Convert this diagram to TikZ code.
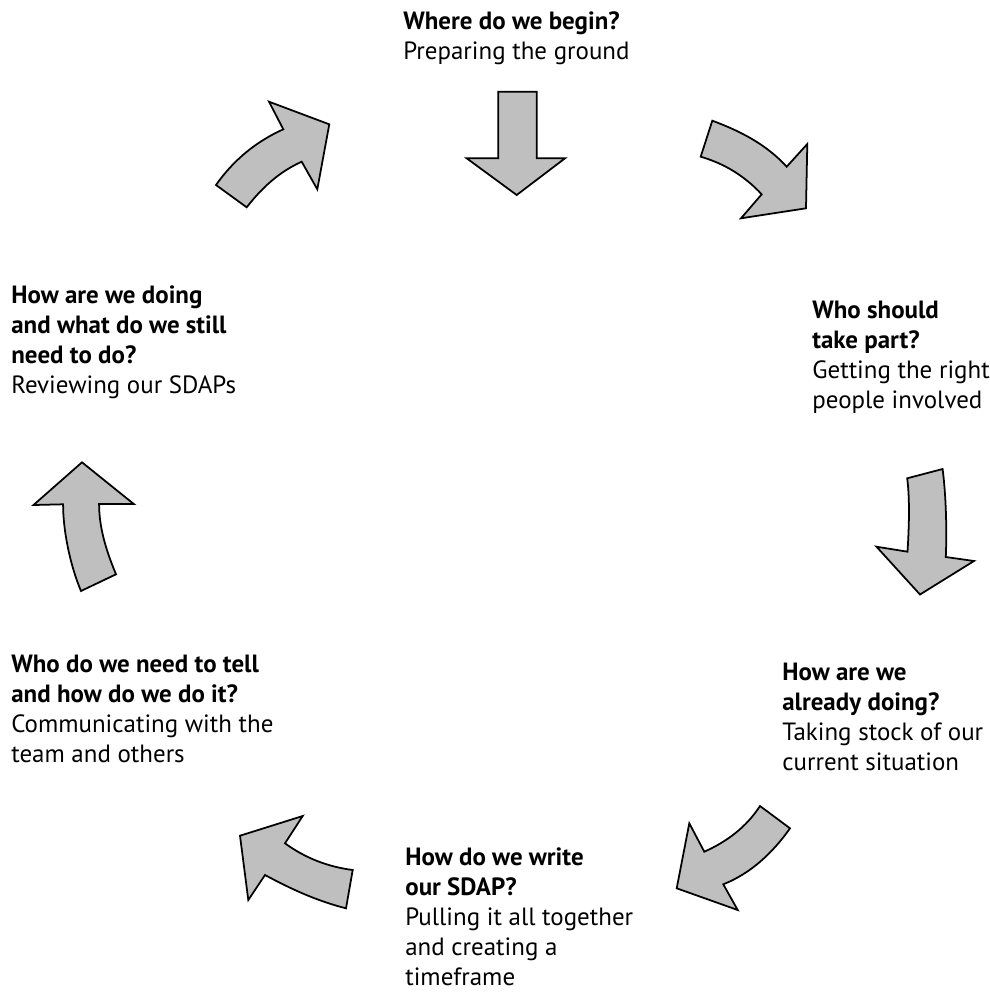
\documentclass[tikz,border=0pt]{standalone}
\usepackage{fontspec}
\setmainfont{PT Sans}
\newcommand{\stagefont}{\fontsize{14.2pt}{17.07pt}\selectfont}
\tikzset{
  blockarrow/.style = {draw=black, fill=black!25, line width=1pt},
  stage/.style = {anchor=base west, align=left, inner sep=0pt, font=\stagefont},
}

\begin{document}
\begin{tikzpicture}[x=0.02cm, y=-0.02cm]
  \useasboundingbox (0,0) rectangle (990,992);

  % Stage texts (placed at the baseline of their last line)
  \node[stage] (begin)   at (403,59)  {\textbf{Where do we begin?}\\Preparing the ground};
  \node[stage] (who)     at (812,408) {\textbf{Who should}\\\textbf{take part?}\\Getting the right\\people involved};
  \node[stage] (already) at (782,770) {\textbf{How are we}\\\textbf{already doing?}\\Taking stock of our\\current situation};
  \node[stage] (write)   at (405,985) {\textbf{How do we write}\\\textbf{our SDAP?}\\Pulling it all together\\and creating a\\timeframe};
  \node[stage] (tell)    at (11,762)  {\textbf{Who do we need to tell}\\\textbf{and how do we do it?}\\Communicating with the\\team and others};
  \node[stage] (review)  at (11,393)  {\textbf{How are we doing}\\\textbf{and what do we still}\\\textbf{need to do?}\\Reviewing our SDAPs};

  % Straight arrow at the top
  \draw[blockarrow] (498.3,91.7) -- (536.7,91.7) -- (536.7,158.3) -- (565,158.3)
    -- (516.7,195) -- (466.7,158.3) -- (498.3,158.3) -- cycle;

  % Top right arrow
  \draw[blockarrow] (712.3,120.7) .. controls (740.4,131.1) and (766.5,144.5) .. (786.7,166.7)
    -- (807.3,144) -- (806,208.3) -- (741,218.3) -- (761.7,194.3)
    .. controls (744.6,176) and (724.7,163.7) .. (700.7,156.7) -- cycle;

  % Right arrow
  \draw[blockarrow] (907.2,478.3) -- (942.6,469) .. controls (946,495) and (947,530) .. (945.8,557)
    -- (974,561) -- (920,594.5) -- (876.5,546.7) -- (907.5,551.7)
    .. controls (909,528) and (910,500) .. (907.2,478.3) -- cycle;

  % Lower right arrow
  \draw[blockarrow] (760,806) -- (790,828.3) .. controls (772.7,852.8) and (751.1,873.2) .. (723.3,884.3)
    -- (737.7,910) -- (676.7,888.3) -- (689.3,823.3) -- (704.3,851.7)
    .. controls (727.1,841.5) and (746.4,827) .. (760,806) -- cycle;

  % Lower left arrow
  \draw[blockarrow] (352.7,870) -- (346,908.3) .. controls (316.9,900.9) and (291.4,889.2) .. (265,875)
    -- (248.3,900) -- (240,835.7) -- (302.7,816) -- (285,843.3)
    .. controls (305.2,858) and (327.9,866.8) .. (352.7,870) -- cycle;

  % Left arrow
  \draw[blockarrow] (82,462.3) -- (133.8,504) -- (99.1,504) .. controls (99,530) and (108,555) .. (116,574.3)
    -- (81,591) .. controls (70,565) and (63,530) .. (63.1,504.3) -- (33.5,505) -- cycle;

  % Top left arrow
  \draw[blockarrow] (216,185) -- (246.7,207.3) .. controls (262.1,187.6) and (278.9,172) .. (301.7,161.7)
    -- (317.3,189.3) -- (329.3,124.3) -- (269,101.7) -- (283.3,129.3)
    .. controls (255.9,141.6) and (233.2,160.4) .. (216,185) -- cycle;
\end{tikzpicture}
\end{document}
